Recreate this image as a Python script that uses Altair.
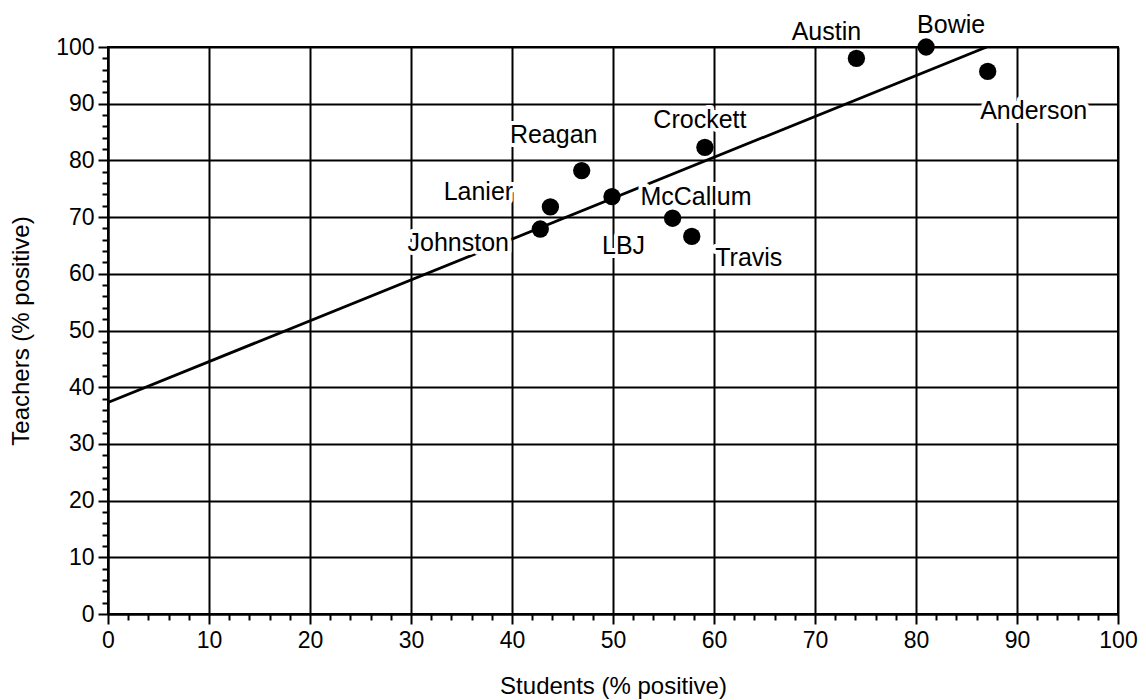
import altair as alt
import pandas as pd

# ---- data ----
schools = ["Johnston", "Lanier", "Reagan", "McCallum", "LBJ", "Travis",
           "Crockett", "Austin", "Bowie", "Anderson"]
students = [42.8, 43.8, 46.9, 49.9, 55.9, 57.8, 59.1, 74.1, 81.0, 87.1]
teachers = [67.9, 71.8, 78.2, 73.6, 69.8, 66.6, 82.3, 98.0, 100.0, 95.7]

fit_students = [0, 87]
fit_teachers = [37.3, 100.0]

tick_values = list(range(0, 101, 2))

# ---- label placement (pixel offsets from each dot) ----
label_offsets = {
    "Johnston": (-82, 14),
    "Lanier": (-72, -15),
    "Reagan": (-28, -36),
    "McCallum": (84, 0),
    "LBJ": (-49, 28),
    "Travis": (57, 22),
    "Crockett": (-5, -27),
    "Austin": (-30, -26),
    "Bowie": (25, -22),
    "Anderson": (46, 40),
}

FONT = "Liberation Sans"

df = pd.DataFrame({"school": schools, "students": students, "teachers": teachers})
fit = pd.DataFrame({"students": fit_students, "teachers": fit_teachers})

major = "datum.value % 10 === 0"

x_axis = alt.Axis(
    values=tick_values,
    labelExpr=f"{major} ? datum.label : ''",
    tickSize={"condition": {"test": major, "value": 10}, "value": 6},
    gridOpacity={"condition": {"test": major, "value": 1}, "value": 0},
    title="Students (% positive)",
    labelFlush=False,
    labelOverlap=False,
    labelPadding=5,
    titlePadding=22,
)
y_axis = alt.Axis(
    values=tick_values,
    labelExpr=f"{major} ? datum.label : ''",
    tickSize={"condition": {"test": major, "value": 10}, "value": 6},
    gridOpacity={"condition": {"test": major, "value": 1}, "value": 0},
    title="Teachers (% positive)",
    labelFlush=False,
    labelOverlap=False,
    labelPadding=4,
    titlePadding=22,
)

xenc = alt.X("students:Q", scale=alt.Scale(domain=[0, 100], nice=False, zero=False), axis=x_axis)
yenc = alt.Y("teachers:Q", scale=alt.Scale(domain=[0, 100], nice=False, zero=False), axis=y_axis)

line = alt.Chart(fit).mark_line(color="black", strokeWidth=2.8, clip=True).encode(x=xenc, y=yenc)
points = alt.Chart(df).mark_circle(color="black", opacity=1, size=300).encode(x=xenc, y=yenc)

layers = [line, points]
halos = []
texts = []
for name in schools:
    dx, dy = label_offsets[name]
    sub = alt.Chart(df).transform_filter(alt.datum.school == name)
    halos.append(
        sub.mark_text(dx=dx, dy=dy, font=FONT, fontSize=25, align="center", baseline="middle",
                      color="white", stroke="white", strokeWidth=8, strokeJoin="round")
        .encode(x=xenc, y=yenc, text="school:N")
    )
    texts.append(
        sub.mark_text(dx=dx, dy=dy, font=FONT, fontSize=25, align="center", baseline="middle",
                      color="black")
        .encode(x=xenc, y=yenc, text="school:N")
    )

chart = alt.layer(*(layers + halos + texts)).properties(
    width=1010,
    height=567,
    autosize=alt.AutoSizeParams(type="none"),
    padding={"left": 100, "top": 39, "right": 20, "bottom": 90},
    background="white",
).configure_view(
    stroke="black", strokeWidth=2
).configure_axis(
    domainColor="black", domainWidth=2,
    tickColor="black", tickWidth=2,
    gridColor="black", gridWidth=2,
    labelFont=FONT, labelFontSize=23, labelColor="black",
    titleFont=FONT, titleFontSize=24, titleFontWeight="normal", titleColor="black",
)

chart.save("out.html", embed_options={"renderer": "svg", "actions": False})
